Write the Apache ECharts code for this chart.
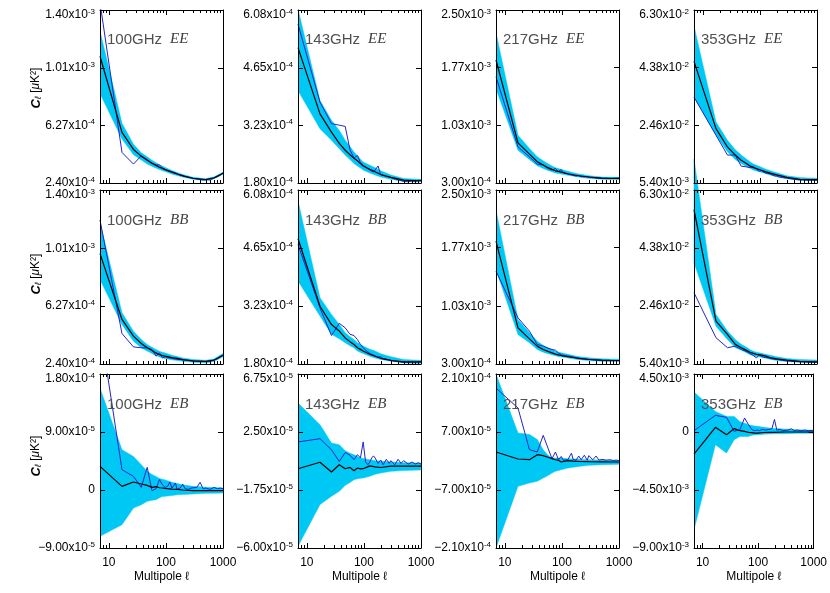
<!DOCTYPE html>
<html><head><meta charset="utf-8">
<script src="https://cdn.jsdelivr.net/npm/echarts/dist/echarts.min.js"></script>
<style>html,body{margin:0;padding:0;background:#fff}#c{width:830px;height:593px}</style>
</head><body><div id="c"></div>
<script>
// ---------- data ----------
const XB = [7,17,27,37,47,57,67,77,87,97,127,157,197,297,497,697,997];
const XD = [7,17,27,37,47,57,67,77,87,97,107,117,127,137,147,157,177,197,217,247,277,297,347,397,447,497,597,697,797,897,997];
const X_MAJOR = [10, 100, 1000];
const X_MINOR = [8,9,20,30,40,50,60,70,80,90,200,300,400,500,600,700,800,900];

const ee100_mean = [1.09e-3,5.8e-4,4.65e-4,4.2e-4,3.93e-4,3.72e-4,3.58e-4,3.46e-4,3.38e-4,3.3e-4,3.13e-4,3.0e-4,2.88e-4,2.72e-4,2.63e-4,2.75e-4,3.05e-4];
const ee100_hi = [1.26e-3,6.4e-4,5.0e-4,4.42e-4,4.16e-4,3.92e-4,3.76e-4,3.62e-4,3.53e-4,3.44e-4,3.24e-4,3.1e-4,2.97e-4,2.78e-4,2.69e-4,2.81e-4,3.12e-4];
const ee100_lo = [8.4e-4,5.35e-4,4.3e-4,3.95e-4,3.67e-4,3.52e-4,3.4e-4,3.3e-4,3.22e-4,3.17e-4,3.0e-4,2.9e-4,2.8e-4,2.65e-4,2.57e-4,2.69e-4,2.99e-4];
const ee100_data = [1.45e-3,4.45e-4,3.67e-4,4.22e-4,3.98e-4,3.72e-4,3.6e-4,3.62e-4,3.4e-4,3.3e-4,3.24e-4,3.18e-4,3.16e-4,3.06e-4,3.08e-4,2.99e-4,2.93e-4,2.92e-4,2.83e-4,2.8e-4,2.74e-4,2.73e-4,2.66e-4,2.64e-4,2.6e-4,2.63e-4,2.6e-4,2.73e-4,2.82e-4,2.92e-4,3.08e-4];

const ee143_mean = [5.15e-4,3.51e-4,3.06e-4,2.78e-4,2.61e-4,2.5e-4,2.41e-4,2.35e-4,2.28e-4,2.22e-4,2.14e-4,2.08e-4,2.01e-4,1.94e-4,1.87e-4,1.86e-4,1.86e-4];
const ee143_hi = [6.1e-4,3.84e-4,3.35e-4,3.1e-4,2.86e-4,2.7e-4,2.57e-4,2.47e-4,2.39e-4,2.32e-4,2.24e-4,2.18e-4,2.1e-4,2.0e-4,1.91e-4,1.9e-4,1.89e-4];
const ee143_lo = [4.09e-4,3.14e-4,2.86e-4,2.65e-4,2.49e-4,2.38e-4,2.28e-4,2.22e-4,2.17e-4,2.12e-4,2.05e-4,2.0e-4,1.95e-4,1.89e-4,1.84e-4,1.83e-4,1.83e-4];
const ee143_data = [5.73e-4,3.8e-4,3.27e-4,3.23e-4,3.2e-4,2.62e-4,2.42e-4,2.48e-4,2.3e-4,2.25e-4,2.19e-4,2.15e-4,2.12e-4,2.09e-4,2.07e-4,2.06e-4,2.22e-4,2.0e-4,1.99e-4,1.96e-4,1.95e-4,1.93e-4,1.9e-4,1.88e-4,1.86e-4,1.84e-4,1.83e-4,1.86e-4,1.84e-4,1.86e-4,1.87e-4];

const ee217_mean = [1.864e-3,8.1e-4,6.67e-4,5.7e-4,5.28e-4,4.95e-4,4.73e-4,4.55e-4,4.47e-4,4.39e-4,4.18e-4,4.05e-4,3.92e-4,3.76e-4,3.63e-4,3.6e-4,3.59e-4];
const ee217_hi = [2.21e-3,9.07e-4,7.38e-4,6.33e-4,5.82e-4,5.45e-4,5.15e-4,4.95e-4,4.83e-4,4.73e-4,4.48e-4,4.31e-4,4.15e-4,3.93e-4,3.76e-4,3.73e-4,3.72e-4];
const ee217_lo = [1.5e-3,7.17e-4,5.99e-4,5.19e-4,4.85e-4,4.6e-4,4.43e-4,4.28e-4,4.2e-4,4.14e-4,3.98e-4,3.89e-4,3.75e-4,3.59e-4,3.48e-4,3.46e-4,3.46e-4];
const ee217_data = [1.65e-3,7.6e-4,6.33e-4,5.4e-4,5.28e-4,4.85e-4,4.64e-4,4.85e-4,4.43e-4,4.73e-4,4.3e-4,4.22e-4,4.15e-4,4.08e-4,4.02e-4,4.0e-4,3.88e-4,3.95e-4,3.82e-4,3.78e-4,3.8e-4,3.72e-4,3.68e-4,3.62e-4,3.6e-4,3.58e-4,3.6e-4,3.56e-4,3.58e-4,3.6e-4,3.62e-4];

const ee353_mean = [4.59e-2,2.35e-2,1.74e-2,1.47e-2,1.3e-2,1.2e-2,1.11e-2,1.05e-2,1.02e-2,9.9e-3,9.1e-3,8.6e-3,8.1e-3,7.3e-3,6.6e-3,6.5e-3,6.5e-3];
const ee353_hi = [5.77e-2,2.57e-2,1.96e-2,1.65e-2,1.47e-2,1.35e-2,1.25e-2,1.17e-2,1.13e-2,1.1e-2,1.0e-2,9.4e-3,8.8e-3,7.8e-3,7.2e-3,7.1e-3,7.0e-3];
const ee353_lo = [3.4e-2,2.13e-2,1.58e-2,1.32e-2,1.19e-2,1.1e-2,1.03e-2,9.7e-3,9.4e-3,9.2e-3,8.5e-3,8.0e-3,7.5e-3,6.8e-3,6.4e-3,6.3e-3,6.3e-3];
const ee353_data = [3.4e-2,2.13e-2,1.47e-2,1.47e-2,1.1e-2,1.08e-2,1.05e-2,1.1e-2,1.0e-2,9.3e-3,9.5e-3,9.0e-3,8.7e-3,8.3e-3,8.5e-3,8.0e-3,7.8e-3,7.7e-3,7.4e-3,7.2e-3,7.1e-3,7.0e-3,6.8e-3,6.6e-3,6.5e-3,6.4e-3,6.4e-3,6.3e-3,6.4e-3,6.3e-3,6.4e-3];

const bb100_mean = [9.76e-4,5.37e-4,4.26e-4,3.77e-4,3.48e-4,3.3e-4,3.14e-4,3.02e-4,2.96e-4,2.92e-4,2.83e-4,2.77e-4,2.69e-4,2.61e-4,2.57e-4,2.66e-4,2.99e-4];
const bb100_hi = [1.18e-3,5.81e-4,4.59e-4,4.03e-4,3.7e-4,3.52e-4,3.37e-4,3.25e-4,3.18e-4,3.14e-4,2.98e-4,2.9e-4,2.8e-4,2.7e-4,2.65e-4,2.74e-4,3.1e-4];
const bb100_lo = [8.03e-4,5.03e-4,3.92e-4,3.48e-4,3.26e-4,3.1e-4,2.97e-4,2.87e-4,2.8e-4,2.77e-4,2.68e-4,2.63e-4,2.58e-4,2.52e-4,2.48e-4,2.57e-4,2.88e-4];
const bb100_data = [1.2e-3,4.43e-4,3.54e-4,3.48e-4,3.48e-4,3.37e-4,2.92e-4,3.14e-4,2.81e-4,2.88e-4,2.82e-4,2.8e-4,2.78e-4,2.76e-4,2.72e-4,2.74e-4,2.7e-4,2.68e-4,2.65e-4,2.64e-4,2.62e-4,2.6e-4,2.58e-4,2.57e-4,2.56e-4,2.56e-4,2.58e-4,2.66e-4,2.75e-4,2.86e-4,2.98e-4];

const bb143_mean = [4.88e-4,3.22e-4,2.77e-4,2.61e-4,2.44e-4,2.35e-4,2.28e-4,2.2e-4,2.16e-4,2.12e-4,2.04e-4,1.99e-4,1.94e-4,1.89e-4,1.85e-4,1.85e-4,1.85e-4];
const bb143_hi = [5.81e-4,3.43e-4,3.02e-4,2.77e-4,2.57e-4,2.47e-4,2.4e-4,2.32e-4,2.28e-4,2.24e-4,2.16e-4,2.12e-4,2.05e-4,1.98e-4,1.91e-4,1.9e-4,1.89e-4];
const bb143_lo = [3.84e-4,2.98e-4,2.53e-4,2.42e-4,2.32e-4,2.25e-4,2.2e-4,2.12e-4,2.08e-4,2.06e-4,1.99e-4,1.95e-4,1.91e-4,1.87e-4,1.83e-4,1.82e-4,1.82e-4];
const bb143_data = [4.74e-4,3.18e-4,2.5e-4,2.8e-4,2.69e-4,2.53e-4,2.5e-4,2.4e-4,2.28e-4,2.2e-4,2.14e-4,2.1e-4,2.06e-4,2.03e-4,2.02e-4,2.04e-4,1.97e-4,1.98e-4,1.93e-4,1.92e-4,1.9e-4,1.89e-4,1.87e-4,1.86e-4,1.85e-4,1.84e-4,1.84e-4,1.85e-4,1.84e-4,1.85e-4,1.85e-4];

const bb217_mean = [1.853e-3,7.57e-4,6.18e-4,5.26e-4,4.83e-4,4.6e-4,4.41e-4,4.25e-4,4.15e-4,4.07e-4,3.94e-4,3.82e-4,3.7e-4,3.57e-4,3.48e-4,3.45e-4,3.44e-4];
const bb217_hi = [2.245e-3,8.63e-4,6.94e-4,5.89e-4,5.34e-4,5.05e-4,4.83e-4,4.62e-4,4.5e-4,4.41e-4,4.22e-4,4.08e-4,3.93e-4,3.78e-4,3.65e-4,3.62e-4,3.61e-4];
const bb217_lo = [1.495e-3,6.73e-4,5.68e-4,4.83e-4,4.5e-4,4.3e-4,4.16e-4,4.03e-4,3.96e-4,3.91e-4,3.76e-4,3.65e-4,3.55e-4,3.44e-4,3.36e-4,3.33e-4,3.32e-4];
const bb217_data = [1.474e-3,8.84e-4,7.15e-4,5.47e-4,5.26e-4,5.0e-4,4.83e-4,4.75e-4,4.4e-4,4.2e-4,4.1e-4,4.05e-4,4.0e-4,3.92e-4,3.95e-4,3.85e-4,3.8e-4,3.76e-4,3.7e-4,3.66e-4,3.62e-4,3.58e-4,3.52e-4,3.5e-4,3.47e-4,3.44e-4,3.43e-4,3.44e-4,3.42e-4,3.44e-4,3.44e-4];

const bb353_mean = [5.65e-2,1.96e-2,1.52e-2,1.19e-2,1.08e-2,1.0e-2,9.3e-3,8.9e-3,8.6e-3,8.5e-3,8.0e-3,7.4e-3,7.1e-3,6.7e-3,6.3e-3,6.2e-3,6.1e-3];
const bb353_hi = [7.33e-2,2.18e-2,1.63e-2,1.35e-2,1.19e-2,1.1e-2,1.02e-2,9.6e-3,9.3e-3,9.1e-3,8.6e-3,8.2e-3,7.8e-3,7.2e-3,6.9e-3,6.8e-3,6.7e-3];
const bb353_lo = [3.89e-2,1.79e-2,1.35e-2,1.08e-2,1.0e-2,9.2e-3,8.5e-3,8.1e-3,7.9e-3,7.8e-3,7.3e-3,6.9e-3,6.6e-3,6.2e-3,6.0e-3,5.9e-3,5.9e-3];
const bb353_data = [2.9e-2,1.41e-2,1.08e-2,1.13e-2,1.02e-2,9.6e-3,8.9e-3,8.2e-3,7.4e-3,8.4e-3,7.9e-3,7.6e-3,7.6e-3,7.4e-3,7.3e-3,7.2e-3,7.0e-3,6.9e-3,6.8e-3,6.6e-3,6.5e-3,6.5e-3,6.3e-3,6.2e-3,6.2e-3,6.1e-3,6.1e-3,6.0e-3,6.0e-3,6.0e-3,6.0e-3];

const eb100_mean = [3.67e-5,5.7e-6,1.24e-5,9.3e-6,7.2e-6,4.1e-6,5.2e-6,3.5e-6,3.1e-6,2.5e-6,1.5e-6,1e-6,0,-1e-6,-1e-6,-1e-6,-1e-6];
const eb100_hi = [1.58e-4,6.26e-5,5.2e-5,3.93e-5,2.9e-5,2.4e-5,2.1e-5,1.8e-5,1.65e-5,1.55e-5,1.2e-5,1.0e-5,8e-6,5.7e-6,4.3e-6,3.8e-6,3.1e-6];
const eb100_lo = [-7.19e-5,-5.38e-5,-2.8e-5,-2.3e-5,-1.76e-5,-1.6e-5,-1.5e-5,-1.2e-5,-1.0e-5,-9.8e-6,-8.5e-6,-7.5e-6,-7e-6,-6.2e-6,-5.2e-6,-5e-6,-4.7e-6];
const eb100_data = [2.55e-4,3.15e-5,2.12e-5,4.1e-6,3.52e-5,-1e-6,2e-6,1.6e-5,8e-6,4e-6,5.7e-6,1.24e-5,3e-6,7e-6,1.09e-5,1e-6,3e-6,9e-6,2e-6,1e-6,3e-6,2e-6,4e-6,1.2e-5,2e-6,3e-6,1e-6,4e-6,2e-6,3e-6,2e-6];

const eb143_mean = [-1.9e-6,2.8e-6,-4.3e-6,1e-6,-1.9e-6,-9e-7,-3.4e-6,-1.4e-6,-2e-6,-1.9e-6,2e-7,-5e-7,-1e-6,0,0,0,0];
const eb143_hi = [4.62e-5,3.04e-5,1.69e-5,1.57e-5,1.13e-5,9.5e-6,8.3e-6,7e-6,6e-6,5.5e-6,4.6e-6,4e-6,3.5e-6,3e-6,2.5e-6,2.3e-6,2.2e-6];
const eb143_lo = [-5.88e-5,-2.82e-5,-2.21e-5,-1.85e-5,-1.41e-5,-1.2e-5,-9.9e-6,-9.3e-6,-8.9e-6,-8.7e-6,-7.4e-6,-6e-6,-5e-6,-3.8e-6,-3.3e-6,-3e-6,-2.8e-6];
const eb143_data = [1.77e-5,2.01e-5,1.2e-5,3.4e-6,1.0e-5,8e-6,4.7e-6,8.4e-6,6e-6,1.77e-5,3e-6,1e-6,3e-6,6e-6,7.5e-6,6e-6,2e-6,4.5e-6,1e-6,5e-6,2e-6,4e-6,1e-6,5e-6,2e-6,4e-6,1.5e-6,3e-6,1.5e-6,2.5e-6,1.5e-6];

const eb217_mean = [2.17e-5,4.8e-6,3.2e-6,1.53e-5,1.29e-5,9e-6,5.6e-6,3e-6,1.6e-6,-2.4e-6,8e-7,-5e-7,-1e-6,-1.6e-6,-2e-6,-2.4e-6,-2.4e-6];
const eb217_hi = [2.1e-4,6.76e-5,6.4e-5,5.2e-5,2.7e-5,1.4e-5,7e-6,7e-6,7e-6,7e-6,5.6e-6,4.8e-6,4.5e-6,3.2e-6,2.4e-6,2e-6,1.6e-6];
const eb217_lo = [-2.1e-4,-6.11e-5,-5.3e-5,-4.9e-5,-4.1e-5,-3.5e-5,-2.9e-5,-2.5e-5,-2.3e-5,-2.1e-5,-1.7e-5,-1.5e-5,-1.3e-5,-1.05e-5,-8.9e-6,-8.4e-6,-8e-6];
const eb217_data = [1.76e-4,1.28e-4,2.74e-5,2.17e-5,6.2e-5,3.1e-5,5.6e-6,2.17e-5,3.2e-6,1.1e-5,1e-6,3e-6,3e-6,2e-6,1.9e-5,4e-6,2e-6,1.2e-5,3e-6,1.4e-5,2e-6,1.3e-5,3e-6,1.2e-5,2e-6,4e-6,2e-6,3e-6,1e-6,2e-6,1e-6];

const eb353_mean = [-1.71e-3,3.6e-4,-2.1e-4,2.6e-4,1e-4,5e-5,-3e-5,-5e-5,-8e-5,-8e-5,-4e-5,-2e-5,-3e-5,0,0,0,0];
const eb353_hi = [3.1e-3,1.6e-3,1.21e-3,1.21e-3,8e-4,6.8e-4,5.7e-4,5e-4,4.6e-4,4.4e-4,3.6e-4,3.1e-4,2.7e-4,2.3e-4,1.8e-4,1.6e-4,1.5e-4];
const eb353_lo = [-7.58e-3,-9.8e-4,-1.63e-3,-6e-4,-3.4e-4,-3.4e-4,-3.4e-4,-2.6e-4,-2.2e-4,-2.1e-4,-1.7e-4,-1.5e-4,-1.4e-4,-1.3e-4,-1e-4,-1e-4,-1e-4];
const eb353_data = [1e-4,1.29e-3,1.14e-3,5e-5,1.8e-4,1.09e-3,5.7e-4,2e-4,1e-4,1.5e-4,1e-4,2e-4,2.5e-4,1.5e-4,3e-4,2e-4,2.5e-4,9.8e-4,1.5e-4,2e-4,1e-4,2e-4,1.5e-4,2.5e-4,1e-4,1.5e-4,1e-4,1.5e-4,1e-4,1.2e-4,1e-4];

// y tick labels (first = axis min, last = axis max)
const yt_100 = [2.40e-4, 6.27e-4, 1.01e-3, 1.40e-3];
const yt_143 = [1.80e-4, 3.23e-4, 4.65e-4, 6.08e-4];
const yt_217 = [3.00e-4, 1.03e-3, 1.77e-3, 2.50e-3];
const yt_353 = [5.40e-3, 2.46e-2, 4.38e-2, 6.30e-2];
const yt_eb100 = [-9.00e-5, 0, 9.00e-5, 1.80e-4];
const yt_eb143 = [-6.00e-5, -1.75e-5, 2.50e-5, 6.75e-5];
const yt_eb217 = [-2.10e-4, -7.00e-5, 7.00e-5, 2.10e-4];
const yt_eb353 = [-9.00e-3, -4.50e-3, 0, 4.50e-3];

const freqs = ['100GHz','143GHz','217GHz','353GHz'];
const specs = ['EE','BB','EB'];

const panels = [
  {f:0,s:0,yt:yt_100,mean:ee100_mean,hi:ee100_hi,lo:ee100_lo,data:ee100_data},
  {f:1,s:0,yt:yt_143,mean:ee143_mean,hi:ee143_hi,lo:ee143_lo,data:ee143_data},
  {f:2,s:0,yt:yt_217,mean:ee217_mean,hi:ee217_hi,lo:ee217_lo,data:ee217_data},
  {f:3,s:0,yt:yt_353,mean:ee353_mean,hi:ee353_hi,lo:ee353_lo,data:ee353_data},
  {f:0,s:1,yt:yt_100,mean:bb100_mean,hi:bb100_hi,lo:bb100_lo,data:bb100_data},
  {f:1,s:1,yt:yt_143,mean:bb143_mean,hi:bb143_hi,lo:bb143_lo,data:bb143_data},
  {f:2,s:1,yt:yt_217,mean:bb217_mean,hi:bb217_hi,lo:bb217_lo,data:bb217_data},
  {f:3,s:1,yt:yt_353,mean:bb353_mean,hi:bb353_hi,lo:bb353_lo,data:bb353_data,noclip:true},
  {f:0,s:2,yt:yt_eb100,mean:eb100_mean,hi:eb100_hi,lo:eb100_lo,data:eb100_data},
  {f:1,s:2,yt:yt_eb143,mean:eb143_mean,hi:eb143_hi,lo:eb143_lo,data:eb143_data},
  {f:2,s:2,yt:yt_eb217,mean:eb217_mean,hi:eb217_hi,lo:eb217_lo,data:eb217_data},
  {f:3,s:2,yt:yt_eb353,mean:eb353_mean,hi:eb353_hi,lo:eb353_lo,data:eb353_data}
];

// ---------- layout / style ----------
const FONT = '"Liberation Sans", Arial, Helvetica, sans-serif';
const CYAN = '#00c8f5';
const BLUE = '#2424c8';
const COL_LEFT = [100, 298, 496, 694];
const ROW_TOP = [9, 190, 374];
const GW = 123, GH = 174;
const YT_CENTER = [88, 274, 456];

function fmtY(v, isTop) {
  let body;
  if (Math.abs(v) < 1e-12) body = '{m|0}';
  else {
    const s = v.toExponential(2).split('e');
    const mant = s[0].replace('-', '\u2212');
    const ex = s[1].replace('+', '');
    body = '{m|' + mant + 'x10}{e|' + ex + '}';
  }
  // the top label sits a little below its tick, as in the original
  return isTop ? '{sp| }\n' + body : body;
}
const yRich = {
  m: {fontSize: 12, fontFamily: FONT, color: '#000', lineHeight: 14},
  e: {fontSize: 8, fontFamily: FONT, color: '#000', lineHeight: 9, verticalAlign: 'top'},
  sp: {fontSize: 6, lineHeight: 10}
};

const grid = [], xAxis = [], yAxis = [], series = [], title = [];
const axLine = {show: true, onZero: false, lineStyle: {color: '#000', width: 1}};

panels.forEach((p, i) => {
  const r = Math.floor(i / 4), c = i % 4;
  grid.push({left: COL_LEFT[c], top: ROW_TOP[r], width: GW, height: GH});
  const xi = xAxis.length, yi = yAxis.length;
  const bx = {type: 'log', logBase: 10, min: 7, max: 1000, gridIndex: i, splitLine: {show: false}, z: 5};
  xAxis.push(Object.assign({}, bx, {
    position: 'bottom', axisLine: axLine,
    axisTick: {show: true, inside: true, length: 5, customValues: X_MAJOR, lineStyle: {color: '#000'}},
    axisLabel: {show: r === 2, customValues: X_MAJOR, margin: 9, fontSize: 12, fontFamily: FONT, color: '#000',
      formatter: v => String(Math.round(v))},
    name: r === 2 ? 'Multipole \u2113' : '', nameLocation: 'middle', nameGap: 23,
    nameTextStyle: {fontSize: 12, fontFamily: FONT, color: '#000'}
  }));
  xAxis.push(Object.assign({}, bx, {
    position: 'bottom', axisLine: {show: false, onZero: false},
    axisTick: {show: true, inside: true, length: 3, customValues: X_MINOR, lineStyle: {color: '#000'}},
    axisLabel: {show: false}
  }));
  xAxis.push(Object.assign({}, bx, {
    position: 'top', axisLine: axLine,
    axisTick: {show: true, inside: true, length: 5, customValues: X_MAJOR, lineStyle: {color: '#000'}},
    axisLabel: {show: false}
  }));
  xAxis.push(Object.assign({}, bx, {
    position: 'top', axisLine: {show: false, onZero: false},
    axisTick: {show: true, inside: true, length: 3, customValues: X_MINOR, lineStyle: {color: '#000'}},
    axisLabel: {show: false}
  }));
  const by = {type: 'value', gridIndex: i, min: p.yt[0], max: p.yt[3], splitLine: {show: false}, z: 5};
  yAxis.push(Object.assign({}, by, {
    position: 'left', axisLine: axLine,
    axisTick: {show: true, inside: true, length: 5, customValues: p.yt, lineStyle: {color: '#000'}},
    axisLabel: {show: true, customValues: p.yt, margin: 5, formatter: v => fmtY(v, v === p.yt[3]), rich: yRich}
  }));
  yAxis.push(Object.assign({}, by, {
    position: 'right', axisLine: axLine,
    axisTick: {show: true, inside: true, length: 5, customValues: p.yt, lineStyle: {color: '#000'}},
    axisLabel: {show: false}
  }));

  const rows = XB.map((x, k) => [x, p.lo[k], p.hi[k]]);
  series.push({
    type: 'custom', xAxisIndex: xi, yAxisIndex: yi, clip: !p.noclip, silent: true, z: 1,
    data: rows, encode: {x: 0, y: [1, 2]},
    renderItem: (params, api) => {
      if (params.dataIndex !== 0) return null;
      const top = rows.map(d => api.coord([d[0], d[2]]));
      const bot = rows.map(d => api.coord([d[0], d[1]])).reverse();
      return {type: 'polygon', shape: {points: top.concat(bot)}, style: {fill: CYAN, stroke: CYAN, lineWidth: 0.5}};
    }
  });
  series.push({
    type: 'line', xAxisIndex: xi, yAxisIndex: yi, symbol: 'none', silent: true, z: 3,
    data: XD.map((x, k) => [x, p.data[k]]),
    lineStyle: {color: BLUE, width: 1}
  });
  series.push({
    type: 'line', xAxisIndex: xi, yAxisIndex: yi, symbol: 'none', silent: true, z: 4,
    data: XB.map((x, k) => [x, p.mean[k]]),
    lineStyle: {color: '#000', width: 1.2}
  });
  title.push({
    text: '{a|' + freqs[p.f] + '}{b|' + specs[p.s] + '}',
    left: COL_LEFT[c] + 7, top: ROW_TOP[r] + 23, padding: 0,
    textStyle: {fontWeight: 'normal', rich: {
      a: {fontSize: 15, fontFamily: FONT, fontWeight: 'normal', color: '#505050'},
      b: {fontSize: 15, fontFamily: '"Liberation Serif", "DejaVu Serif", serif', fontStyle: 'italic', fontWeight: 'normal', color: '#404040', padding: [0, 0, 0, 8]}
    }}
  });
});

const graphic = YT_CENTER.map(cy => ({
  type: 'text', x: 36, y: cy, rotation: Math.PI / 2, silent: true,
  style: {
    text: '{c|C}{l|\u2113} {t|[}{mu|\u03bc}{t|K\u00b2]}',
    align: 'center', verticalAlign: 'middle',
    rich: {
      c: {fontSize: 13, fontFamily: FONT, fontStyle: 'italic', fontWeight: 'bold', fill: '#000'},
      l: {fontSize: 9, fontFamily: FONT, fontStyle: 'italic', fill: '#000', verticalAlign: 'bottom', padding: [4, 0, 0, 0]},
      t: {fontSize: 12, fontFamily: FONT, fill: '#000'},
      mu: {fontSize: 12, fontFamily: FONT, fontStyle: 'italic', fill: '#000'}
    }
  }
}));

const chart = echarts.init(document.getElementById('c'), null, {renderer: 'canvas'});
chart.setOption({
  animation: false,
  backgroundColor: '#fff',
  grid, xAxis, yAxis, series, title, graphic
});
</script>
</body></html>
